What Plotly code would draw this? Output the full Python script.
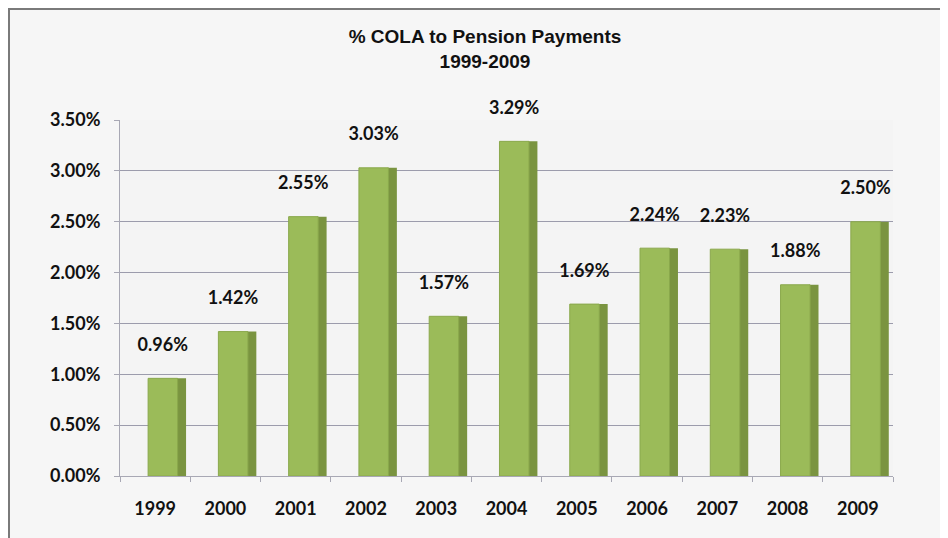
import plotly.graph_objects as go

years = ["1999", "2000", "2001", "2002", "2003", "2004", "2005", "2006", "2007", "2008", "2009"]
cola_pct = [0.96, 1.42, 2.55, 3.03, 1.57, 3.29, 1.69, 2.24, 2.23, 1.88, 2.50]
labels = [f"{v:.2f}%" for v in cola_pct]
y_ticks = [0, 0.5, 1.0, 1.5, 2.0, 2.5, 3.0, 3.5]
y_tick_text = [f"{v:.2f}%" for v in y_ticks]

label_font = dict(family="Lato", size=18, color="#111111", weight="bold")
# small spacer line lifts the value labels above the (3D) bar tops
spaced_labels = [f"{t}<br><span style='font-size:7px'>&nbsp;</span>" for t in labels]

fig = go.Figure()
# darker side face of each bar (pseudo-3D)
fig.add_trace(go.Bar(
    x=years, y=cola_pct, width=0.13, offset=0.31,
    marker=dict(color="#7a9440", line=dict(width=0)),
    hoverinfo="skip", showlegend=False,
))
# front face
fig.add_trace(go.Bar(
    x=years, y=cola_pct, width=0.42, offset=-0.10,
    marker=dict(color="#9bbb59", line=dict(color="#8aa84c", width=1)),
    text=spaced_labels, textposition="outside", cliponaxis=False,
    constraintext="none", textfont=label_font,
    hovertext=labels, hoverinfo="x+text",
    showlegend=False,
))

W, H = 940, 530
pl, pr, pt, pb = 112, 55, 112, 62
pw, ph = W - pl - pr, H - pt - pb

fig.update_layout(
    width=W, height=H,
    margin=dict(l=pl, r=pr, t=pt, b=pb),
    paper_bgcolor="#f6f6f6", plot_bgcolor="#f4f4f4",
    barmode="overlay",
    title=dict(
        text="<b>% COLA to Pension Payments</b><br><b>1999-2009</b>",
        x=(485 - 8) / W, xanchor="center", xref="container",
        y=1 - 35 / H, yanchor="top", yref="container",
        font=dict(family="Liberation Sans", size=19, color="#111111"),
    ),
    xaxis=dict(
        showgrid=False, showline=True, linecolor="#a8a8b4", linewidth=1,
        ticks="outside", tickson="boundaries", ticklen=5, tickcolor="#a8a8b4",
        tickfont=label_font, ticklabelstandoff=16,
    ),
    yaxis=dict(
        range=[0, 3.5], tickvals=y_ticks, ticktext=y_tick_text,
        showgrid=True, gridcolor="#9c9cac", gridwidth=1,
        showline=True, linecolor="#a8a8b4", ticks="outside", ticklen=5,
        tickcolor="#a8a8b4", zeroline=False,
        tickfont=label_font, ticklabelstandoff=10,
    ),
    shapes=[dict(
        type="rect", xref="paper", yref="paper",
        x0=(1 - pl) / pw, x1=(W - 2 - pl) / pw,
        y0=-(pb + 10) / ph, y1=(ph + pt - 1) / ph,
        line=dict(color="#7a7a7a", width=2), fillcolor="rgba(0,0,0,0)",
        layer="below",
    )],
)

fig.write_html("out.html")
